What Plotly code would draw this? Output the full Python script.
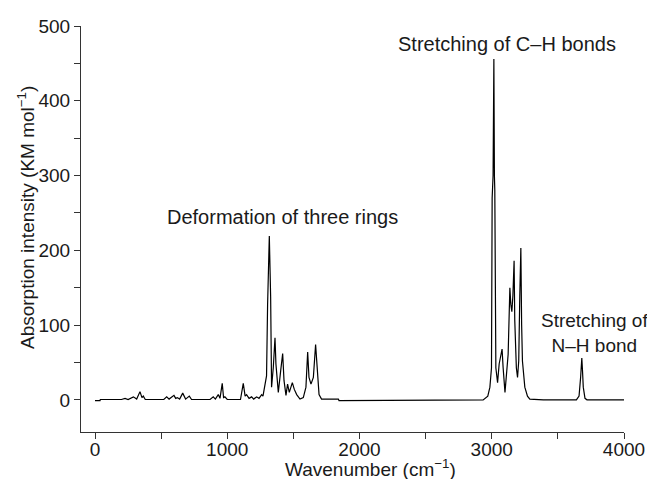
import plotly.graph_objects as go

# Wavenumber (cm^-1) and absorption intensity (KM mol^-1)
wavenumber = [0, 38, 40, 200, 227, 250, 290, 315, 340, 355, 365, 380,
              520, 542, 560, 597, 610, 622, 640, 663, 685, 713, 730,
              870, 894, 910, 932, 945, 962, 972, 982, 1000,
              1100, 1121, 1135, 1146, 1165, 1184, 1200, 1222, 1240, 1260, 1270, 1277, 1290, 1297,
              1305, 1318, 1328, 1335, 1348, 1361, 1368, 1386, 1404, 1419, 1429, 1444, 1456, 1469,
              1492, 1507, 1525, 1550, 1575, 1595, 1608, 1618, 1633, 1651, 1668, 1681, 1694, 1713,
              1840, 1845, 2900, 2935, 2970, 2986, 2998, 3003, 3010, 3016, 3020, 3023, 3031, 3044,
              3056, 3066, 3072, 3078, 3086, 3100, 3124, 3137, 3144, 3152, 3160, 3169, 3174, 3186,
              3195, 3204, 3212, 3220, 3226, 3232, 3250, 3270, 3288, 3390, 3640, 3660, 3672, 3678,
              3681, 3686, 3692, 3705, 3720, 4000]
intensity = [-1, -1, 0.5, 0.5, 2, 0.5, 4, 1, 11, 3, 5, 0.5,
             0.5, 4, 1, 6, 2, 3, 1, 9, 1, 5, 0.5,
             0.5, 4, 1, 7, 2, 22, 3, 4, 0.5,
             0.5, 22, 5, 7, 2, 4, 1, 4, 2, 7, 5, 12, 25, 32,
             128, 219, 138, 17, 43, 83, 48, 10, 39, 62, 26, 6, 21, 10,
             23, 14, 7, 1, 3, 17, 64, 30, 21, 30, 74, 43, 7, 1,
             1, -1, -1, 0, 5, 17, 43, 270, 300, 456, 300, 281, 43, 23,
             48, 57, 62, 68, 43, 10, 61, 150, 128, 118, 140, 186, 106, 43,
             30, 52, 139, 203, 100, 52, 17, 5, 1, 0, 0, 5, 30, 52,
             56, 40, 17, 2, 0, 0]

x_tickvals = [0, 500, 1000, 1500, 2000, 2500, 3000, 3500, 4000]
x_ticktext = ["0", "", "1000", "", "2000", "", "3000", "", "4000"]
y_tickvals = [0, 50, 100, 150, 200, 250, 300, 350, 400, 450, 500]
y_ticktext = ["0", "", "100", "", "200", "", "300", "", "400", "", "500"]

labels = ["Deformation of three rings", "Stretching of C\u2013H bonds", "Stretching of<br>N\u2013H bond"]
label_x = [1421, 3115, 3780]
label_y = [244, 476, 90]
label_size = [20, 20, 19]

FONT = "Liberation Sans, Arial, sans-serif"
fig = go.Figure()
fig.add_trace(go.Scatter(x=wavenumber, y=intensity, mode="lines",
                         line=dict(color="black", width=1.2), showlegend=False,
                         hoverinfo="skip"))

for t, lx, ly, fs in zip(labels, label_x, label_y, label_size):
    fig.add_annotation(x=lx, y=ly, text=t, showarrow=False, xanchor="center",
                       yanchor="middle", font=dict(family=FONT, size=fs, color="#1a1a1a"))

fig.add_annotation(xref="paper", yref="paper", x=(362 - 73) / 543, y=-0.088,
                   text="Wavenumber (cm<sup>\u22121</sup>)", showarrow=False,
                   xanchor="center", yanchor="middle",
                   font=dict(family=FONT, size=19, color="#1a1a1a"))
fig.add_annotation(xref="paper", yref="paper", x=(18 - 73) / 543, y=0.527,
                   text="Absorption intensity (KM mol<sup>\u22121</sup>)", showarrow=False,
                   textangle=-90, xanchor="center", yanchor="middle",
                   font=dict(family=FONT, size=19, color="#1a1a1a"))

fig.update_layout(
    width=647, height=471,
    margin=dict(l=73, r=31, t=18, b=47, autoexpand=False),
    paper_bgcolor="white", plot_bgcolor="white",
    font=dict(family=FONT, size=19, color="#1a1a1a"),
    xaxis=dict(range=[-106, 4000], tickvals=x_tickvals, ticktext=x_ticktext,
               showgrid=False, zeroline=False, showline=True, linecolor="#333",
               linewidth=1.2, ticks="outside", ticklen=6, tickcolor="#333", tickwidth=1.2,
               automargin=False, ticklabelstandoff=-6,
               tickfont=dict(family=FONT, size=19, color="#1a1a1a")),
    yaxis=dict(range=[-43, 500], tickvals=y_tickvals, ticktext=y_ticktext,
               showgrid=False, zeroline=False, showline=True, linecolor="#333",
               linewidth=1.2, ticks="outside", ticklen=6, tickcolor="#333", tickwidth=1.2,
               automargin=False,
               tickfont=dict(family=FONT, size=19, color="#1a1a1a")),
)

fig.write_html("out.html")
